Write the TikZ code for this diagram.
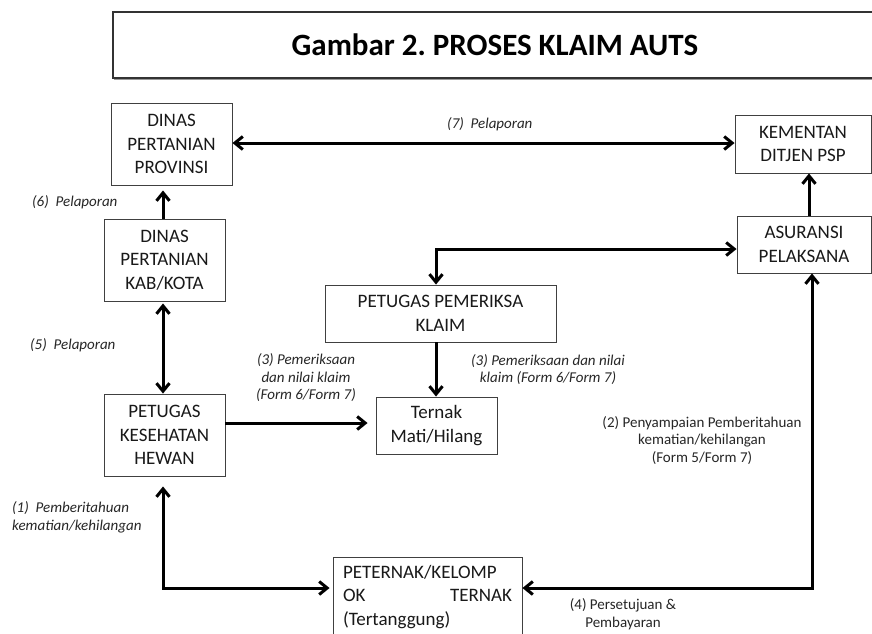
\documentclass[tikz,border=0pt]{standalone}
\usepackage{fontspec}
\setmainfont{Carlito}
\usetikzlibrary{arrows.meta}
\frenchspacing
\begin{document}
\begin{tikzpicture}[x=1pt,y=-1pt,
  box/.style={draw=black!75,line width=0.9pt,inner sep=0pt,align=center,
    font=\fontsize{19}{23.5}\selectfont,text=black!90},
  lbl/.style={inner sep=0pt,align=center,font=\fontsize{15}{17.5}\selectfont\itshape,text=black!85},
  lbln/.style={inner sep=0pt,align=center,font=\fontsize{15}{17.5}\selectfont,text=black!85},
  arr/.style={line width=3pt,-{Straight Barb[length=8pt,width=13pt]}},
  darr/.style={line width=3pt,{Straight Barb[length=8pt,width=13pt]}-{Straight Barb[length=8pt,width=13pt]}}]
\useasboundingbox (0,0) rectangle (872,633);
\fill[white] (0,0) rectangle (872,633);
% title
\fill[black!40] (114,13) rectangle (884,80);
\node[fill=white,draw=black!80,line width=1.2pt,minimum width=770pt,minimum height=66pt,inner sep=0pt,
  font=\fontsize{31}{34}\selectfont\bfseries] (title) at (498,45) {\hspace*{-6pt}Gambar 2. PROSES KLAIM AUTS};
% boxes
\node[box,minimum width=121pt,minimum height=82pt] (prov) at (171.5,144) {DINAS\\PERTANIAN\\PROVINSI};
\node[box,minimum width=121pt,minimum height=82pt] (kab) at (164.5,260) {DINAS\\PERTANIAN\\KAB/KOTA};
\node[box,minimum width=121pt,minimum height=82pt] (pkh) at (164.5,435) {PETUGAS\\KESEHATAN\\HEWAN};
\node[box,minimum width=231pt,minimum height=57pt] (ppk) at (440.5,313.5) {PETUGAS PEMERIKSA\\KLAIM};
\node[box,minimum width=121pt,minimum height=57pt] (ternak) at (436.5,425.5) {Ternak\\Mati/Hilang};
\node[box,minimum width=136pt,minimum height=58pt] (kem) at (803,144) {KEMENTAN\\DITJEN PSP};
\node[box,minimum width=134pt,minimum height=57pt] (asu) at (804,244.5) {ASURANSI\\PELAKSANA};
\node[box,minimum width=189pt,minimum height=80pt,text width=169pt,align=left] (pet) at (427.5,597)
  {PETERNAK/KELOMP\\OK\hfill TERNAK\\(Tertanggung)};
% coordinates
\coordinate (k1) at (436,249);
\coordinate (l1) at (163,588);
\coordinate (r1) at (812,588);
% connectors
\draw[darr] (prov.east |- 0,143) -- (kem.west |- 0,143);
\draw[arr,shorten >=5pt] (kab.north -| 163,0) -- (prov.south -| 163,0);
\draw[darr,shorten <=2pt] (kab.south -| 163,0) -- (pkh.north -| 163,0);
\draw[arr] (asu.north -| 809,0) -- (kem.south -| 809,0);
\draw[darr] (ppk.north -| k1) -- (k1) -- (k1 -| asu.west);
\draw[arr] (ppk.south -| k1) -- (ternak.north -| k1);
\draw[arr,shorten >=8pt] (pkh.east |- 0,423) -- (ternak.west |- 0,423);
\draw[darr,shorten <=10pt,shorten >=3pt] (l1 |- pkh.south) -- (l1) -- (l1 -| pet.west);
\draw[darr] (r1 -| pet.east) -- (r1) -- (r1 |- asu.south);
% labels
\node[lbl,anchor=west] (t7) at (447,124) {(7)\ \ Pelaporan};
\node[lbl,anchor=west] (t6) at (32,202) {(6)\ \ Pelaporan};
\node[lbl,anchor=west] (t5) at (30,345) {(5)\ \ Pelaporan};
\node[lbl] (t3a) at (306,378) {(3) Pemeriksaan\\dan nilai klaim\\(Form 6/Form 7)};
\node[lbl] (t3b) at (548,369.5) {(3) Pemeriksaan dan nilai\\klaim (Form 6/Form 7)};
\node[lbl,align=left,anchor=west] (t1) at (12,517.5) {(1)\ \ Pemberitahuan\\kematian/kehilangan};
\node[lbln] (t2) at (702,440.5) {(2) Penyampaian Pemberitahuan\\kematian/kehilangan\\(Form 5/Form 7)};
\node[lbln] (t4) at (623,614) {(4) Persetujuan \&\\Pembayaran};
\end{tikzpicture}
\end{document}
